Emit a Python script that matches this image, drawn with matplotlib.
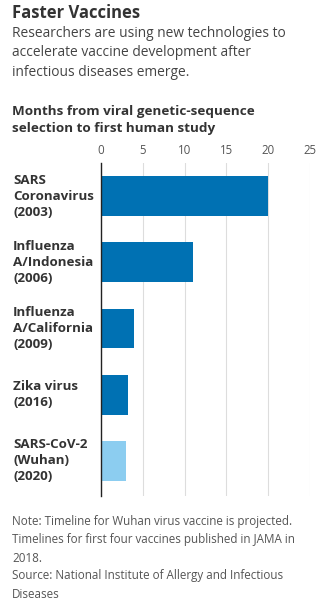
import matplotlib.pyplot as plt

plt.rcParams['font.family'] = ['Open Sans', 'DejaVu Sans']

labels = ['SARS\nCoronavirus\n(2003)', 'Influenza\nA/Indonesia\n(2006)',
          'Influenza\nA/California\n(2009)', 'Zika virus\n(2016)',
          'SARS-CoV-2\n(Wuhan)\n(2020)']
months = [20, 11, 3.9, 3.2, 3.0]
projected = [False, False, False, False, True]
ticks = [0, 5, 10, 15, 20, 25]

W, H = 328, 602
fig = plt.figure(figsize=(W / 100, H / 100), dpi=100)

def px(x, y):
    return x / W, 1 - y / H

ax = fig.add_axes([101 / W, 1 - 496 / H, (310 - 101) / W, (496 - 163) / H])
colors = ['#8ccdf0' if p else '#0071b3' for p in projected]
ypos = list(range(len(labels)))
ax.barh(ypos, months, height=0.6, color=colors, zorder=3)
ax.set_xlim(0, 25)
ax.set_ylim(len(labels) - 0.47, -0.5)
ax.set_xticks(ticks)
ax.xaxis.tick_top()
ax.tick_params(axis='x', length=0, labelsize=8.3, colors='#555555', pad=4)
ax.set_yticks([])
ax.grid(axis='x', color='#dddddd', linewidth=0.8, zorder=0)
for s in ['top', 'right', 'bottom']:
    ax.spines[s].set_visible(False)
ax.spines['left'].set_color('#222222')
ax.spines['left'].set_linewidth(1)
ax.spines['left'].set_zorder(4)

for i, lab in enumerate(labels):
    ax.text(-88 / 8.36, i, lab, ha='left', va='center', fontsize=9.6,
            fontweight='bold', color='#333333', linespacing=1.3)

fig.text(*px(12, 13), 'Faster Vaccines', fontsize=12, fontweight='bold',
         color='#333333', va='center')
fig.text(*px(12, 53),
         'Researchers are using new technologies to\naccelerate vaccine development after\ninfectious diseases emerge.',
         fontsize=9.9, color='#444444', va='center', linespacing=1.42)
fig.text(*px(12, 120),
         'Months from viral genetic-sequence\nselection to first human study',
         fontsize=9.7, fontweight='bold', color='#333333', va='center', linespacing=1.42)
fig.text(*px(12, 558),
         'Note: Timeline for Wuhan virus vaccine is projected.\nTimelines for first four vaccines published in JAMA in\n2018.\nSource: National Institute of Allergy and Infectious\nDiseases',
         fontsize=8.4, color='#555555', va='center', linespacing=1.5)

fig.savefig('out.png', dpi=100, facecolor='white')
